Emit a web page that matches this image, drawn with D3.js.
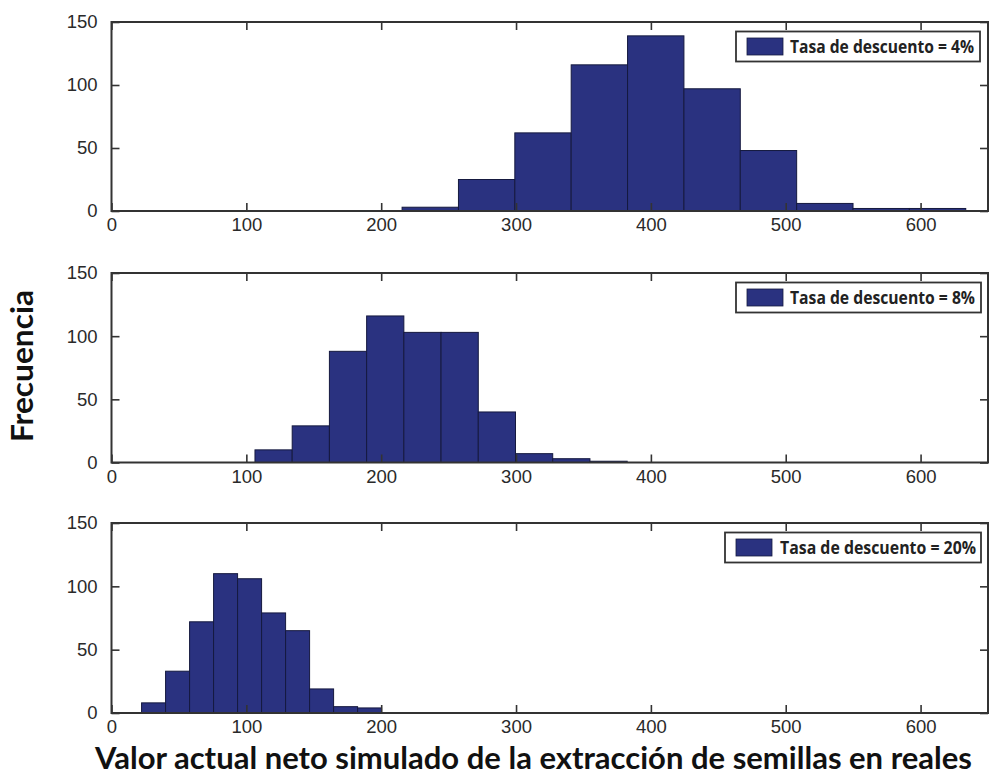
<!DOCTYPE html>
<html>
<head>
<meta charset="utf-8">
<script src="https://cdn.jsdelivr.net/npm/d3@7"></script>
<style>
  html, body { margin: 0; padding: 0; background: #fff; }
  svg { display: block; }
</style>
</head>
<body>
<svg id="chart" width="994" height="776"></svg>
<script>
// Histogram bin edges (valor actual neto) and counts for each discount rate
const edges4 = [215.5, 257.3, 299.1, 340.9, 382.7, 424.5, 466.3, 508.1, 549.9, 591.7, 633.5];
const counts4 = [3, 25, 62, 116, 139, 97, 48, 6, 2, 2];

const edges8 = [106.4, 134.0, 161.6, 189.2, 216.8, 244.4, 272.0, 299.6, 327.2, 354.8, 382.4];
const counts8 = [10, 29, 88, 116, 103, 103, 40, 7, 3, 1];

const edges20 = [22.3, 40.1, 57.9, 75.7, 93.5, 111.3, 129.1, 146.9, 164.7, 182.5, 200.3];
const counts20 = [8, 33, 72, 110, 106, 79, 65, 19, 5, 4];

const legendLabels = ["Tasa de descuento = 4%", "Tasa de descuento = 8%", "Tasa de descuento = 20%"];
const xTicks = [0, 100, 200, 300, 400, 500, 600];
const yTicks = [0, 50, 100, 150];
const yTitle = "Frecuencia";
const xTitle = "Valor actual neto simulado de la extracción de semillas en reales";

const panels = [
  { edges: edges4, counts: counts4, label: legendLabels[0], top: 22, bottom: 211, legX: 736, legW: 244, swX: 747, txtX: 790, txtW: 184 },
  { edges: edges8, counts: counts8, label: legendLabels[1], top: 273, bottom: 462.5, legX: 736, legW: 245, swX: 747, txtX: 790, txtW: 185 },
  { edges: edges20, counts: counts20, label: legendLabels[2], top: 523, bottom: 713, legX: 725, legW: 256, swX: 736, txtX: 780, txtW: 196 }
];

const svg = d3.select("#chart");
const left = 111.5, right = 988;
const x = d3.scaleLinear().domain([0, 650]).range([left, right]);

const barFill = "#2a3280";
const barEdge = "#15193f";
const axisColor = "#333";
const tickFont = "'Liberation Sans', Arial, sans-serif";
const titleFont = "Lato, 'Open Sans', sans-serif";

panels.forEach(p => {
  const y = d3.scaleLinear().domain([0, 150]).range([p.bottom, p.top]);
  const g = svg.append("g");

  const bins = p.counts.map((c, i) => ({ x0: p.edges[i], x1: p.edges[i + 1], n: c }));

  // bars
  g.selectAll("rect.bar").data(bins).enter().append("rect")
    .attr("class", "bar")
    .attr("x", d => x(d.x0))
    .attr("y", d => y(d.n))
    .attr("width", d => x(d.x1) - x(d.x0))
    .attr("height", d => y(0) - y(d.n))
    .attr("fill", barFill)
    .attr("stroke", barEdge)
    .attr("stroke-width", 1);

  // axes (ticks pointing inward on all four sides)
  const tickLen = 8;
  const axB = d3.axisBottom(x).tickValues(xTicks).tickSizeInner(-tickLen).tickSizeOuter(0).tickPadding(7);
  const axT = d3.axisTop(x).tickValues(xTicks).tickSizeInner(-tickLen).tickSizeOuter(0).tickFormat("");
  const axL = d3.axisLeft(y).tickValues(yTicks).tickSizeInner(-tickLen).tickSizeOuter(0).tickPadding(14);
  const axR = d3.axisRight(y).tickValues(yTicks).tickSizeInner(-tickLen).tickSizeOuter(0).tickFormat("");

  const styleAxis = sel => {
    sel.select(".domain").remove();
    sel.selectAll(".tick line").attr("stroke", axisColor).attr("stroke-width", 1.6);
    sel.selectAll(".tick text").attr("fill", "#2a2a2a")
      .style("font-family", tickFont).style("font-size", "18.5px");
  };

  g.append("g").attr("transform", `translate(0,${p.bottom})`).call(axB).call(styleAxis);
  g.append("g").attr("transform", `translate(0,${p.top})`).call(axT).call(styleAxis);
  g.append("g").attr("transform", `translate(${left},0)`).call(axL).call(styleAxis);
  g.append("g").attr("transform", `translate(${right},0)`).call(axR).call(styleAxis);

  // frame
  g.append("rect")
    .attr("x", left).attr("y", p.top)
    .attr("width", right - left).attr("height", p.bottom - p.top)
    .attr("fill", "none").attr("stroke", axisColor).attr("stroke-width", 2);

  // legend
  const ly = p.top + 9.5;
  const lg = g.append("g");
  lg.append("rect")
    .attr("x", p.legX).attr("y", ly).attr("width", p.legW).attr("height", 30)
    .attr("fill", "#fff").attr("stroke", axisColor).attr("stroke-width", 1.8);
  lg.append("rect")
    .attr("x", p.swX).attr("y", ly + 6.5).attr("width", 36).attr("height", 17)
    .attr("fill", barFill).attr("stroke", barEdge).attr("stroke-width", 0.8);
  lg.append("text")
    .attr("x", p.txtX).attr("y", ly + 21.5)
    .attr("textLength", p.txtW).attr("lengthAdjust", "spacingAndGlyphs")
    .style("font-family", "'Open Sans', 'Liberation Sans', sans-serif")
    .style("font-weight", "700").style("font-size", "17px")
    .attr("fill", "#222")
    .text(p.label);
});

// axis titles
svg.append("text")
  .attr("transform", "translate(33,366) rotate(-90)")
  .attr("text-anchor", "middle")
  .attr("textLength", 152).attr("lengthAdjust", "spacingAndGlyphs")
  .style("font-family", titleFont)
  .style("font-weight", "700").style("font-size", "31px")
  .attr("fill", "#111")
  .text(yTitle);

svg.append("text")
  .attr("x", 95).attr("y", 768.5)
  .attr("textLength", 877).attr("lengthAdjust", "spacingAndGlyphs")
  .style("font-family", titleFont)
  .style("font-weight", "700").style("font-size", "29.5px")
  .attr("fill", "#111")
  .text(xTitle);
</script>
</body>
</html>
